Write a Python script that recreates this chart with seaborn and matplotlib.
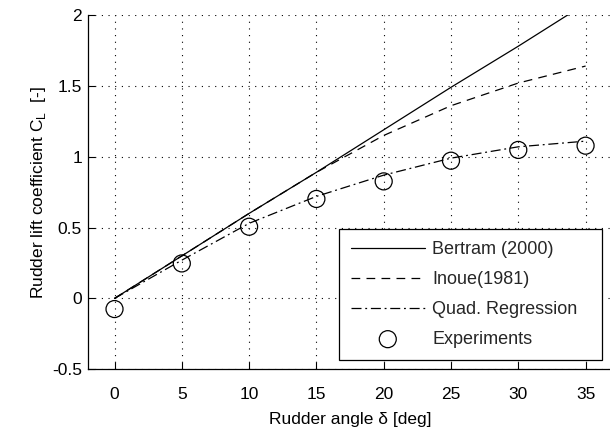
import matplotlib
matplotlib.use("Agg")
import matplotlib.pyplot as plt
import seaborn as sns
import pandas as pd

angles = [0, 5, 10, 15, 20, 25, 30, 35]
bertram = [0.0, 0.30, 0.60, 0.89, 1.19, 1.49, 1.78, 2.08]
inoue = [0.0, 0.30, 0.60, 0.89, 1.15, 1.36, 1.52, 1.64]
quad = [0.0, 0.27, 0.53, 0.72, 0.87, 0.99, 1.07, 1.11]
experiments = [-0.075, 0.247, 0.506, 0.702, 0.826, 0.972, 1.048, 1.078]
xticks = [0, 5, 10, 15, 20, 25, 30, 35]
yticks = [-0.5, 0, 0.5, 1, 1.5, 2]

sns.set_theme(style="white")
plt.rcParams['font.family'] = ['Liberation Sans', 'DejaVu Sans']
plt.rcParams['mathtext.fontset'] = 'custom'
plt.rcParams['mathtext.rm'] = 'Liberation Sans'

fig = plt.figure(figsize=(6.10, 4.32), dpi=100)
ax = fig.add_axes([0.1436, 0.1452, 0.8605, 0.8200])

df = pd.DataFrame({"angle": angles, "bertram": bertram, "inoue": inoue,
                   "quad": quad, "exp": experiments})

sns.lineplot(data=df, x="angle", y="bertram", ax=ax, color="black", lw=0.9,
             label="Bertram (2000)")
sns.lineplot(data=df, x="angle", y="inoue", ax=ax, color="black", lw=0.9,
             label="Inoue(1981)")
ax.lines[-1].set_linestyle((0, (7, 5)))
sns.lineplot(data=df, x="angle", y="quad", ax=ax, color="black", lw=0.9,
             label="Quad. Regression")
ax.lines[-1].set_linestyle((0, (8, 3, 1.5, 3)))
sns.scatterplot(data=df, x="angle", y="exp", ax=ax, marker="o", s=150,
                facecolor="none", edgecolor="black", linewidth=0.9,
                label="Experiments", zorder=5)

ax.set_xlim(-2, 37)
ax.set_ylim(-0.5, 2)
ax.set_xticks(xticks)
ax.set_yticks(yticks)
ax.set_xticklabels([str(t) for t in xticks])
ax.set_yticklabels(["-0.5", "0", "0.5", "1", "1.5", "2"])
ax.grid(True, color="black", linestyle=(0, (1, 5)), linewidth=0.8)
for s in ["top", "right"]:
    ax.spines[s].set_visible(False)
for s in ["left", "bottom"]:
    ax.spines[s].set_color("black")
    ax.spines[s].set_linewidth(0.9)
ax.tick_params(direction="in", length=5, width=0.8, colors="black",
               labelsize=12.5, left=True, bottom=True)
ax.tick_params(axis="x", pad=13)
ax.tick_params(axis="y", pad=4)

ax.set_xlabel("Rudder angle δ [deg]", fontsize=12.5, color="black", labelpad=7)
ax.set_ylabel("Rudder lift coefficient C$_\\mathregular{L}$  [-]", fontsize=12.5,
              color="black", labelpad=3)

leg = ax.legend(loc="upper left", bbox_to_anchor=(0.479, 0.0367, 0.501, 0.3588),
                mode="expand", fontsize=13, frameon=True, fancybox=False,
                edgecolor="black", framealpha=1, handlelength=4.1,
                handletextpad=0.4, borderpad=0.65, labelspacing=0.72,
                borderaxespad=0)
leg.get_frame().set_linewidth(0.9)

fig.savefig("out.png", dpi=100)
